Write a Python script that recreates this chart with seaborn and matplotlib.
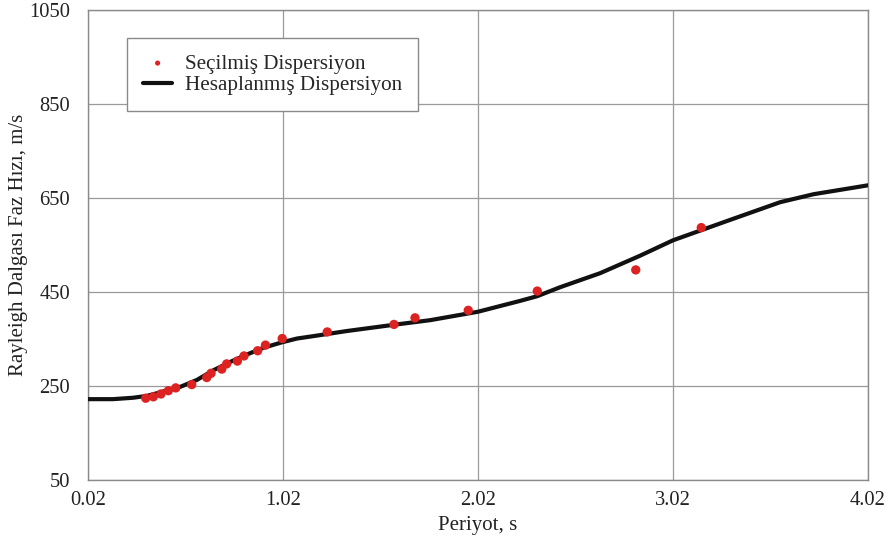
import matplotlib
matplotlib.use("Agg")
import matplotlib.pyplot as plt
import seaborn as sns
import pandas as pd

# Selected dispersion (observed points)
sel_period = [0.316, 0.355, 0.394, 0.432, 0.470, 0.552, 0.629, 0.651, 0.706, 0.731,
              0.786, 0.820, 0.890, 0.930, 1.016, 1.247, 1.589, 1.697, 1.970, 2.324,
              2.829, 3.165]
sel_velocity = [224, 227, 233, 240, 246, 253, 268, 277, 286, 297,
                303, 314, 325, 337, 351, 365, 381, 395, 411, 452,
                497, 587]

# Calculated dispersion (curve)
calc_period = [0.02, 0.148, 0.251, 0.323, 0.492, 0.579, 0.661, 0.748, 0.835, 0.917,
               1.015, 1.092, 1.174, 1.348, 1.584, 1.774, 2.02, 2.235, 2.323, 2.44,
               2.646, 2.85, 3.02, 3.31, 3.569, 3.74, 4.02]
calc_velocity = [222, 222, 225, 229, 248, 263, 283, 301, 317, 331,
                 343, 351, 356, 367, 380, 390, 408, 431, 441, 460,
                 490, 527, 560, 603, 641, 658, 677]

x_ticks = [0.02, 1.02, 2.02, 3.02, 4.02]
x_ticklabels = ["0.02", "1.02", "2.02", "3.02", "4.02"]
y_ticks = [50, 250, 450, 650, 850, 1050]

sel_df = pd.DataFrame({"Periyot": sel_period, "Hiz": sel_velocity})
calc_df = pd.DataFrame({"Periyot": calc_period, "Hiz": calc_velocity})

sns.set_style("white")
plt.rcParams["font.family"] = ["Liberation Serif", "DejaVu Serif"]

fig = plt.figure(figsize=(8.94, 5.44), dpi=100)
ax = fig.add_axes([88/894, 1 - 480/544, 780/894, 470/544])

sns.lineplot(data=calc_df, x="Periyot", y="Hiz", ax=ax, color="#111111",
             linewidth=3.0, label="Hesaplanmış Dispersiyon", sort=False, zorder=3)
sns.scatterplot(data=sel_df, x="Periyot", y="Hiz", ax=ax, color="#dd2222",
                s=45, edgecolor="none", label="Seçilmiş Dispersiyon", zorder=4)

ax.set_xlim(0.02, 4.02)
ax.set_ylim(50, 1050)
ax.set_xticks(x_ticks)
ax.set_xticklabels(x_ticklabels)
ax.set_yticks(y_ticks)
ax.grid(True, color="#9a9a9a", linewidth=0.9)
ax.set_axisbelow(True)
for side, sp in ax.spines.items():
    sp.set_color("#8a8a8a")
    sp.set_linewidth(1.0)
ax.tick_params(axis="both", length=0, labelsize=14.8, colors="#222222")
ax.tick_params(axis="y", pad=13)
ax.tick_params(axis="x", pad=8)
ax.set_xlabel("Periyot, s", fontsize=15, color="#222222")
ax.set_ylabel("Rayleigh Dalgası Faz Hızı, m/s", fontsize=15, color="#222222")
ax.xaxis.set_label_coords(0.5, -0.096)
ax.yaxis.set_label_coords(-0.0897, 0.5)
ax.xaxis.label.set_va("center")
ax.yaxis.label.set_va("center")

handles, labels = ax.get_legend_handles_labels()
order = [labels.index("Seçilmiş Dispersiyon"), labels.index("Hesaplanmış Dispersiyon")]
leg = ax.legend([handles[i] for i in order], [labels[i] for i in order],
                loc="upper left", bbox_to_anchor=(0.05, 0.9404), borderaxespad=0,
                fontsize=15.2, frameon=True, fancybox=False, edgecolor="#8a8a8a",
                framealpha=1, markerscale=0.55, handlelength=1.4, borderpad=0.75,
                labelspacing=0.08, handletextpad=0.6)
leg.get_frame().set_linewidth(1.0)

fig.savefig("out.png", dpi=100)
